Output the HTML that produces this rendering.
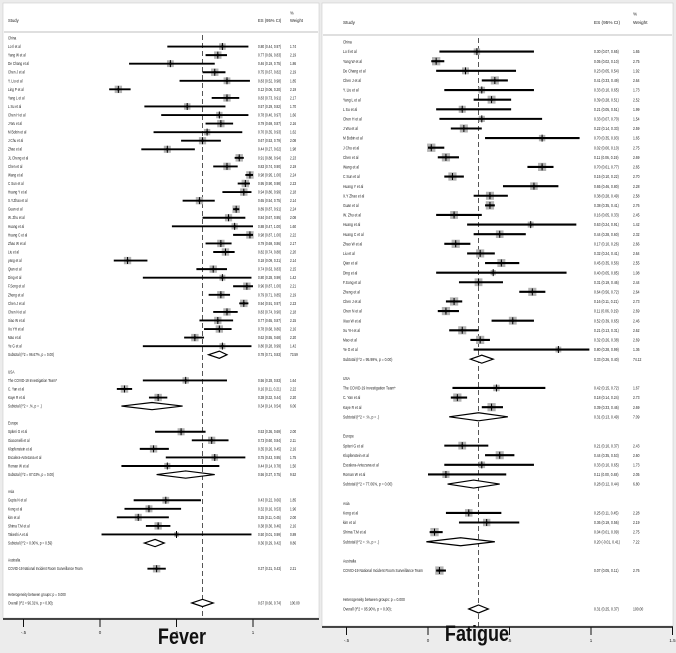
<!DOCTYPE html>
<html><head><meta charset="utf-8">
<style>
html,body{margin:0;padding:0;background:#ececec;}
svg{display:block;}
.t{font-family:"Liberation Sans Narrow","Liberation Sans",sans-serif;fill:#222;}
.big{font-family:"Liberation Sans Narrow","Liberation Sans",sans-serif;font-weight:bold;fill:#111;}
</style></head>
<body>
<svg id="chart" width="676" height="653" viewBox="0 0 676 653" xmlns="http://www.w3.org/2000/svg">
<rect x="0" y="0" width="676" height="653" fill="#ececec"/>
<rect x="3" y="3" width="316" height="615" fill="#fff" stroke="#ccc" stroke-width="0.6"/>
<rect x="322" y="3" width="351" height="623" fill="#fff" stroke="#ccc" stroke-width="0.6"/>
<g id="fever"></g>
<g id="fatigue"></g>
</svg>
<script>
// ===== Fever data =====
const feverLabels = ["China","Lo Il et al","Yang W et al","De Chang et al","Chen J et al","Y. Liu et al","Ling P et al","Yang L et al","L Su et al","Chen H et al","J Wu et al","M Bobin et al","J Chu et al","Zhao et al","JL Cheng et al","Chen et al","Wang et al","C Sun et al","Huang Y et al","X.Y.Zhao et al","Guan et al","W. Zhu et al","Huang et al","Huang C et al","Zhao W et al","Liu et al","yang et al","Qian et al","Ding et al","F.Song et al","Zheng et al","Chen J et al","Chen N et al","Xiao W et al","Xu YH et al","Mao et al","Ye G et al","Subtotal  (I^2 = 96.67%, p = 0.00)","",
"USA","The COVID-19 Investigation Team*","C. Yan et al","Kaye R et al","Subtotal  (I^2 = .%, p = .)","",
"Europe","Spiteri G et al","Giacomelli et al","Klopfenstein et al","Escalera-Antezana et al","Roman W et al","Subtotal  (I^2 = 87.03%, p = 0.00)","",
"Asia","Gupta N et al","Kong et al","kim et al","Shima T.M et al","Takeshi A et al","Subtotal  (I^2 = 0.00%, p = 0.59)","",
"Australia","COVID-19 National Incident Room Surveillance Team","","","Heterogeneity between groups: p = 0.000","Overall  (I^2 = 96.31%, p = 0.00);"];
const feverTypes = ["g","d","d","d","d","d","d","d","d","d","d","d","d","d","d","d","d","d","d","d","d","d","d","d","d","d","d","d","d","d","d","d","d","d","d","d","d","s","b","g","d","d","d","s","b","g","d","d","d","d","d","s","b","g","d","d","d","d","d","s","b","g","d","b","b","g","s"];
const feverES = [null,0.80,0.77,0.46,0.75,0.83,0.12,0.83,0.57,0.78,0.79,0.70,0.67,0.44,0.91,0.83,0.98,0.95,0.94,0.65,0.89,0.84,0.88,0.98,0.79,0.82,0.18,0.74,0.80,0.96,0.79,0.94,0.83,0.77,0.78,0.62,0.80,0.78,null,null,0.56,0.16,0.38,0.34,null,null,0.53,0.73,0.35,0.75,0.44,0.56,null,null,0.43,0.32,0.25,0.38,0.50,0.36,null,null,0.37,null,null,null,0.67];
const feverLo = [null,0.44,0.69,0.19,0.67,0.52,0.06,0.73,0.29,0.40,0.69,0.35,0.53,0.27,0.88,0.74,0.95,0.90,0.80,0.54,0.87,0.67,0.47,0.87,0.69,0.74,0.09,0.63,0.28,0.87,0.71,0.91,0.74,0.65,0.68,0.55,0.28,0.71,null,null,0.28,0.11,0.32,0.14,null,null,0.36,0.60,0.26,0.43,0.14,0.37,null,null,0.22,0.16,0.11,0.30,0.01,0.29,null,null,0.31,null,null,null,0.60];
const feverHi = [null,0.97,0.83,0.75,0.82,0.98,0.20,0.91,0.82,0.97,0.87,0.93,0.79,0.62,0.94,0.90,1.00,0.98,0.99,0.75,0.91,0.95,1.00,1.00,0.86,0.88,0.31,0.83,0.99,1.00,0.85,0.97,0.90,0.87,0.86,0.68,0.99,0.83,null,null,0.83,0.21,0.44,0.54,null,null,0.69,0.84,0.45,0.95,0.78,0.75,null,null,0.66,0.53,0.45,0.46,0.99,0.42,null,null,0.43,null,null,null,0.74];
const feverW = [null,1.74,2.19,1.86,2.19,1.85,2.19,2.17,1.70,1.66,2.16,1.62,2.08,1.98,2.23,2.19,2.24,2.23,2.18,2.14,2.24,2.08,1.60,2.22,2.17,2.20,2.14,2.15,1.42,2.21,2.19,2.23,2.18,2.15,2.16,2.20,1.42,73.59,null,null,1.64,2.22,2.20,6.06,null,null,2.00,2.11,2.16,1.75,1.50,9.52,null,null,1.85,1.96,2.00,2.16,0.89,8.86,null,null,2.21,null,null,null,100.00];
const feverTicks = [-0.5,0,0.5,1];
const feverTickLabels = ["-.5","0",".5","1"];

// ===== Fatigue data =====
const fatigueLabels = ["China","Lo Il et al","Yang W et al","De Chang et al","Chen J et al","Y. Liu et al","Yang L et al","L Su et al","Chen H et al","J Wu et al","M Bobin et al","J Chu et al","Chen et al","Wang et al","C Sun et al","Huang Y et al","X.Y Zhao et al","Guan et al","W. Zhu et al","Huang et al","Huang C et al","Zhao W et al","Liu et al","Qian et al","Ding et al","F.Song et al","Zheng et al","Chen J et al","Chen N et al","Xiao W et al","Xu YH et al","Mao et al","Ye G et al","Subtotal  (I^2 = 95.99%, p = 0.00)","",
"USA","The COVID-19 Investigation Team*","C. Yan et al","Kaye R et al","Subtotal  (I^2 = .%, p = .)","",
"Europe","Spiteri G et al","Klopfenstein et al","Escalera-Antezana et al","Roman W et al","Subtotal  (I^2 = 77.06%, p = 0.00)","",
"Asia","Kong et al","kim et al","Shima T.M et al","Subtotal  (I^2 = .%, p = .)","",
"Australia","COVID-19 National Incident Room Surveillance Team","","","Heterogeneity between groups: p = 0.000","Overall  (I^2 = 95.90%, p = 0.00);"];
const fatigueTypes = ["g","d","d","d","d","d","d","d","d","d","d","d","d","d","d","d","d","d","d","d","d","d","d","d","d","d","d","d","d","d","d","d","d","s","b","g","d","d","d","s","b","g","d","d","d","d","s","b","g","d","d","d","s","b","g","d","b","b","g","s"];
const fatigueES = [null,0.30,0.05,0.23,0.41,0.33,0.39,0.21,0.33,0.22,0.70,0.02,0.11,0.70,0.15,0.65,0.38,0.38,0.16,0.63,0.44,0.17,0.32,0.45,0.40,0.31,0.64,0.16,0.11,0.52,0.21,0.32,0.80,0.33,null,null,0.42,0.18,0.39,0.31,null,null,0.21,0.44,0.33,0.11,0.28,null,null,0.25,0.36,0.04,0.20,null,null,0.07,null,null,null,0.31];
const fatigueLo = [null,0.07,0.02,0.05,0.33,0.10,0.28,0.05,0.07,0.14,0.35,0.00,0.06,0.61,0.10,0.46,0.28,0.35,0.05,0.24,0.28,0.10,0.24,0.35,0.05,0.19,0.56,0.11,0.06,0.39,0.13,0.26,0.28,0.26,null,null,0.15,0.14,0.33,0.13,null,null,0.10,0.35,0.10,0.00,0.12,null,null,0.11,0.19,0.01,-0.01,null,null,0.05,null,null,null,0.25];
const fatigueHi = [null,0.65,0.10,0.54,0.49,0.65,0.51,0.51,0.70,0.33,0.93,0.10,0.19,0.77,0.22,0.80,0.49,0.41,0.33,0.91,0.60,0.26,0.41,0.56,0.85,0.46,0.72,0.21,0.19,0.65,0.31,0.38,0.99,0.40,null,null,0.72,0.24,0.46,0.49,null,null,0.37,0.53,0.65,0.48,0.44,null,null,0.45,0.56,0.09,0.41,null,null,0.11,null,null,null,0.37];
const fatigueW = [null,1.65,2.75,1.92,2.64,1.73,2.52,1.99,1.54,2.59,1.65,2.75,2.69,2.65,2.70,2.28,2.58,2.76,2.45,1.42,2.32,2.66,2.64,2.55,1.08,2.44,2.64,2.73,2.69,2.46,2.62,2.69,1.36,74.12,null,null,1.67,2.73,2.69,7.09,null,null,2.43,2.60,1.73,2.05,6.80,null,null,2.28,2.19,2.75,7.22,null,null,2.76,null,null,null,100.00];
const fatigueTicks = [-0.5,0,0.5,1,1.5];
const fatigueTickLabels = ["-.5","0",".5","1","1.5"];

const NS = "http://www.w3.org/2000/svg";
function mk(parent, tag, attrs, text){
  const e = document.createElementNS(NS, tag);
  for (const k in attrs) e.setAttribute(k, attrs[k]);
  if (text !== undefined) e.textContent = text;
  parent.appendChild(e);
  return e;
}
function f2(v){ return (v<0?"-":"") + Math.abs(v).toFixed(2); }

function drawPanel(cfg){
  const g = document.getElementById(cfg.id);
  const xs = v => cfg.x0 + v*cfg.k;
  const ys = i => cfg.row0 + i*cfg.step;
  const fs = cfg.fs;
  let e = mk(g,"text",{x:cfg.studyX,y:cfg.headY,class:"t","font-size":fs},"Study");
  
  
  e = mk(g,"text",{x:cfg.esX,y:cfg.headY,class:"t","font-size":fs},"ES (95% CI)");
  
  
  e = mk(g,"text",{x:cfg.wX,y:cfg.headY-cfg.step*0.9,class:"t","font-size":fs},"%");
  
  
  e = mk(g,"text",{x:cfg.wX,y:cfg.headY,class:"t","font-size":fs},"Weight");
  
  
  e = mk(g,"line",{x1:cfg.left,x2:cfg.right,y1:cfg.sepY,y2:cfg.sepY,stroke:"#aaa","stroke-width":0.8});
  
  
  const ov = cfg.es[cfg.es.length-1];
  e = mk(g,"line",{x1:xs(ov),x2:xs(ov),y1:cfg.sepY+3,y2:cfg.axisY,stroke:"#444","stroke-width":0.9,"stroke-dasharray":"5,3"});
  
  

  for (let i=0;i<cfg.labels.length;i++){
    const y = ys(i), t = cfg.types[i];
    if (cfg.labels[i]) {
      e = mk(g,"text",{x:cfg.studyX,y:y+fs*0.35,class:"t","font-size":fs,
        transform:`translate(${cfg.studyX},0) scale(${cfg.sx},1) translate(${-cfg.studyX},0)`},cfg.labels[i]);
      
      
    }
    if (cfg.es[i]===null) continue;
    const es=cfg.es[i], lo=cfg.lo[i], hi=cfg.hi[i], w=cfg.w[i];
    e = mk(g,"text",{x:cfg.esX,y:y+fs*0.35,class:"t","font-size":fs,
      transform:`translate(${cfg.esX},0) scale(${cfg.sx},1) translate(${-cfg.esX},0)`},`${f2(es)} (${f2(lo)}, ${f2(hi)})`);
    
    
    e = mk(g,"text",{x:cfg.wX,y:y+fs*0.35,class:"t","font-size":fs,
      transform:`translate(${cfg.wX},0) scale(${cfg.sx},1) translate(${-cfg.wX},0)`},w.toFixed(2));
    
    
    if (t==="d"){
      const s = Math.sqrt(w)*cfg.sq;
      e = mk(g,"rect",{x:xs(es)-s/2,y:y-s/2,width:s,height:s,fill:"#b4b4b4"});
      
      
      e = mk(g,"line",{x1:xs(lo),x2:xs(hi),y1:y,y2:y,stroke:"#000","stroke-width":cfg.lw});
      
      
      const px=xs(es);
      e = mk(g,"path",{d:`M${px-2},${y} L${px},${y-1.8} L${px+2},${y} L${px},${y+1.8} Z M${px-0.5},${y-3.5} h1 v7 h-1 Z`,fill:"#000"});
      
      
    } else {
      const h = cfg.dh;
      e = mk(g,"path",{d:`M${xs(lo)},${y} L${xs(es)},${y-h} L${xs(hi)},${y} L${xs(es)},${y+h} Z`,fill:"#fff",stroke:"#000","stroke-width":1.2});
      
      
    }
  }
  e = mk(g,"line",{x1:cfg.left-1,x2:cfg.right+1,y1:cfg.axisY,y2:cfg.axisY,stroke:"#111","stroke-width":1.6});
  
  
  for (let j=0;j<cfg.ticks.length;j++){
    const x = xs(cfg.ticks[j]);
    e = mk(g,"line",{x1:x,x2:x,y1:cfg.axisY,y2:cfg.axisY+8,stroke:"#111","stroke-width":1});
    
    
    e = mk(g,"text",{x:x,y:cfg.axisY+15,class:"t","font-size":4.5,"text-anchor":"middle"},cfg.tickLabels[j]);
    
    
  }
  e = mk(g,"text",{x:cfg.titleX,y:cfg.titleY,class:"big","font-size":22,"text-anchor":"middle",
    transform:`translate(${cfg.titleX},0) scale(0.82,1) translate(${-cfg.titleX},0)`},cfg.title);
  
  
}

drawPanel({id:"fever",labels:feverLabels,types:feverTypes,es:feverES,lo:feverLo,hi:feverHi,w:feverW,
  ticks:feverTicks,tickLabels:feverTickLabels,x0:100,k:153,row0:38,step:8.56,fs:4.2,sx:0.75,
  studyX:8,esX:258,wX:290,headY:22,sepY:32,left:4,right:318,axisY:619,sq:5.0,lw:1.9,dh:3.6,
  title:"Fever",titleX:182,titleY:644});
drawPanel({id:"fatigue",labels:fatigueLabels,types:fatigueTypes,es:fatigueES,lo:fatigueLo,hi:fatigueHi,w:fatigueW,
  ticks:fatigueTicks,tickLabels:fatigueTickLabels,x0:428,k:163,row0:42,step:9.61,fs:4.7,sx:0.72,
  studyX:343,esX:594,wX:633,headY:24,sepY:35,left:323,right:672,axisY:627,sq:5.0,lw:2.1,dh:4,
  title:"Fatigue",titleX:477,titleY:641});
</script>
</body></html>
